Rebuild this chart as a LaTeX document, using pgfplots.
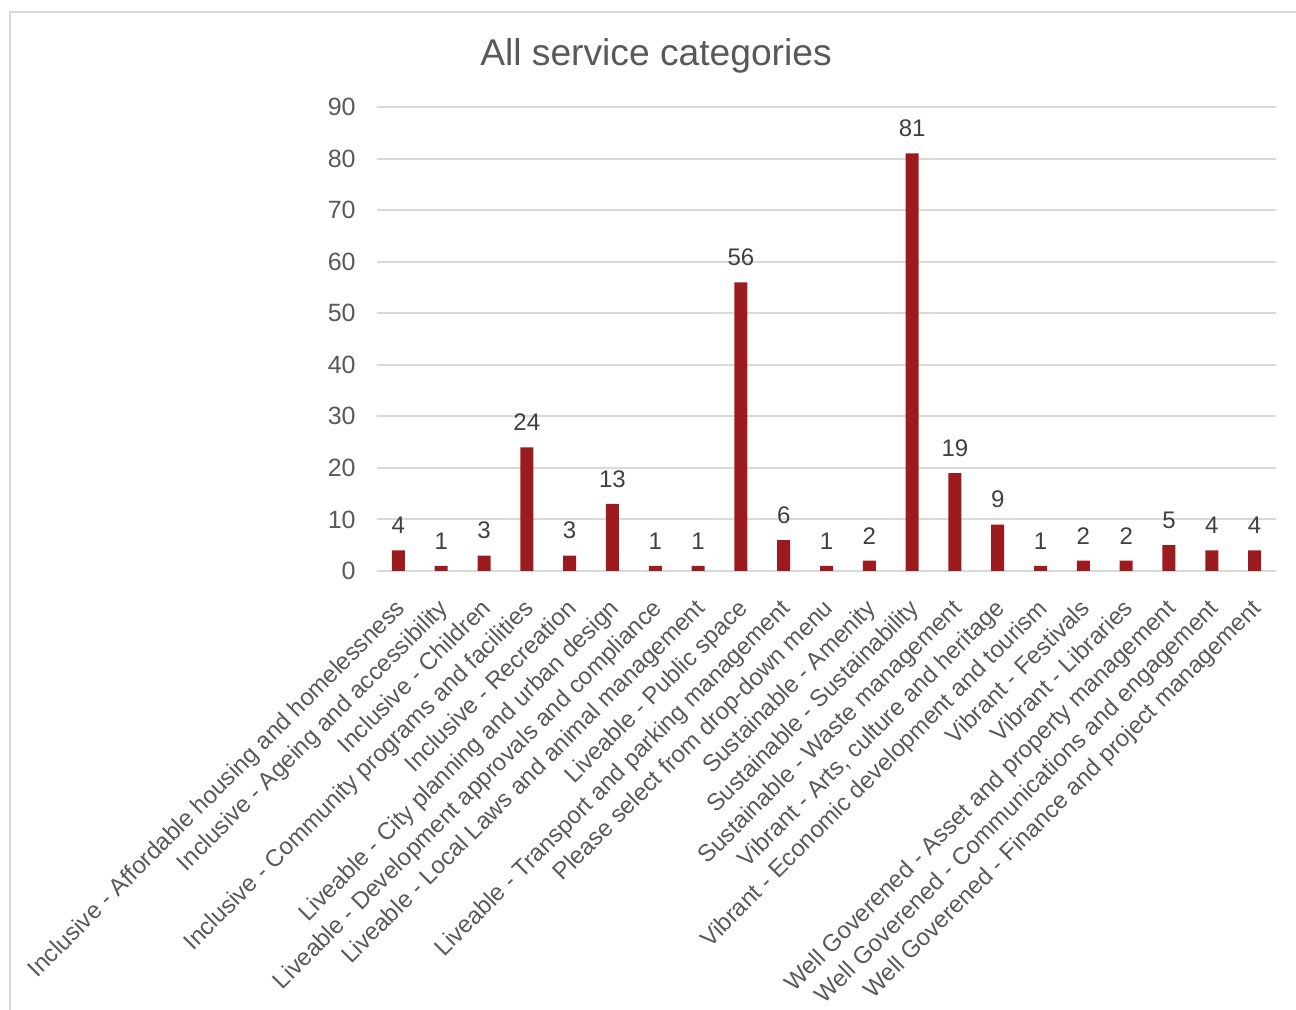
\documentclass[border=0pt]{standalone}
\usepackage{pgfplots}
\pgfplotsset{compat=1.18}
\usepackage{fontspec}
\setmainfont{Liberation Sans}
\definecolor{barred}{RGB}{155,27,31}
\definecolor{txtgray}{RGB}{89,89,89}
\definecolor{valgray}{RGB}{64,64,64}
\definecolor{gridgray}{RGB}{217,217,217}
\begin{document}
\begin{tikzpicture}[x=1pt,y=1pt]
\useasboundingbox (0,0) rectangle (648,505);
\draw[gridgray, line width=1pt] (5,0) -- (5,499) -- (648,499);
\node[anchor=base, text=txtgray, font=\fontsize{18.6}{22}\selectfont] at (328,472) {All service categories};
\begin{axis}[
  at={(188.5pt,219.5pt)}, anchor=south west,
  scale only axis, width=449.5pt, height=232pt,
  xmin=-0.5, xmax=20.5, ymin=0, ymax=90,
  ytick={0,10,...,90},
  xtick={0,...,20},
  xticklabels={
    Inclusive - Affordable housing and homelessness,
    Inclusive - Ageing and accessibility,
    Inclusive - Children,
    Inclusive - Community programs and facilities,
    Inclusive - Recreation,
    Liveable - City planning and urban design,
    Liveable - Development approvals and compliance,
    Liveable - Local Laws and animal management,
    Liveable - Public space,
    Liveable - Transport and parking management,
    Please select from drop-down menu,
    Sustainable - Amenity,
    Sustainable - Sustainability,
    Sustainable - Waste management,
    {Vibrant - Arts, culture and heritage},
    Vibrant - Economic development and tourism,
    Vibrant - Festivals,
    Vibrant - Libraries,
    Well Goverened - Asset and property management,
    Well Goverened - Communications and engagement,
    Well Goverened - Finance and project management},
  axis line style={draw=none},
  major tick length=0pt,
  ymajorgrids, grid style={gridgray, line width=1pt},
  tick label style={text=txtgray},
  /pgf/number format/assume math mode=true,
  yticklabel style={anchor=east, inner sep=0pt, xshift=-10.5pt, font=\fontsize{12.5}{15}\selectfont},
  xticklabel style={xshift=-2.2pt, yshift=-13pt, rotate=45, anchor=north east, inner sep=0pt, font=\fontsize{12}{14}\selectfont},
  ybar, bar width=6.5pt,
  nodes near coords,
  every node near coord/.append style={text=valgray, font=\fontsize{12}{14}\selectfont, inner sep=0pt, yshift=8pt},
]
\addplot[fill=barred, draw=none] coordinates {
(0,4) (1,1) (2,3) (3,24) (4,3) (5,13) (6,1) (7,1) (8,56) (9,6) (10,1)
(11,2) (12,81) (13,19) (14,9) (15,1) (16,2) (17,2) (18,5) (19,4) (20,4)};
\end{axis}
\end{tikzpicture}
\end{document}
